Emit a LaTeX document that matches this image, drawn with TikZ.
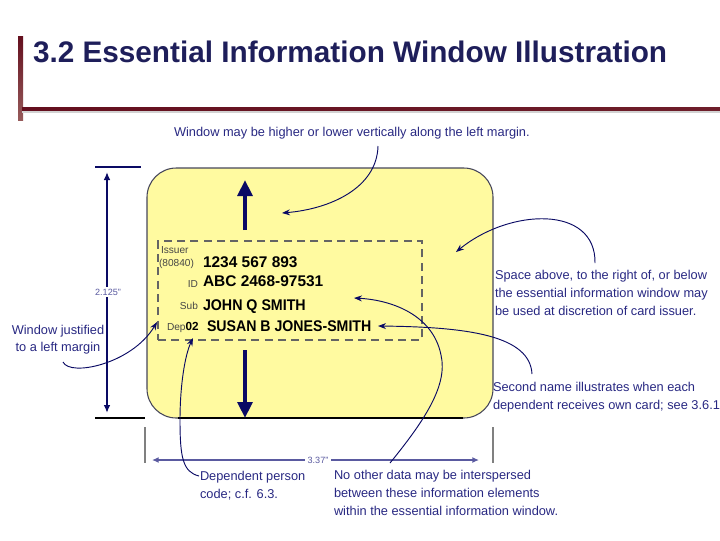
\documentclass[tikz,border=0pt]{standalone}
\usepackage{fontspec}
\setmainfont{Liberation Sans}
\usetikzlibrary{arrows.meta}
\definecolor{titlenavy}{RGB}{30,30,90}
\definecolor{navy}{RGB}{10,10,100}
\definecolor{callout}{RGB}{40,40,130}
\definecolor{cardyellow}{RGB}{255,250,160}
\definecolor{cardline}{RGB}{70,70,90}
\definecolor{bardark}{RGB}{100,15,30}
\definecolor{barlight}{RGB}{150,90,90}
\definecolor{dimblue}{RGB}{90,90,160}
\definecolor{labgray}{RGB}{70,70,70}
\definecolor{dashgray}{RGB}{100,100,100}
\begin{document}
\begin{tikzpicture}[x=0.75pt,y=-0.75pt,
  every node/.style={inner sep=0pt, outer sep=0pt},
  ctext/.style={text=callout, font=\fontsize{9.6}{13.4}\selectfont, align=left, anchor=north west},
  cline/.style={draw=navy, line width=0.7pt, -{Stealth[length=6pt,width=4.5pt]}},
  bigtxt/.style={font=\bfseries\fontsize{11.6}{13}\selectfont, anchor=base west, text=black},
  smalltxt/.style={font=\fontsize{7.6}{9}\selectfont, text=labgray},
  fatarrow/.style={draw=navy, line width=3pt, -{Triangle[length=12pt,width=11pt]}},
  dimlabel/.style={font=\fontsize{6.8}{8}\selectfont, text=dimblue, fill=white, inner xsep=2pt, inner ysep=1pt}
]
\useasboundingbox (0,0) rectangle (720,540);
% title bar
\shade[top color=bardark, bottom color=barlight] (18,36) rectangle (23,120);
\fill[gray!35] (22,110.5) rectangle (720,112.5);
\shade[left color=bardark, right color=bardark!80!barlight] (22,107.5) rectangle (720,110.5);
\node[anchor=base west, font=\bfseries\fontsize{22.3}{25}\selectfont, text=titlenavy] (title) at (33,62) {3.2 Essential Information Window Illustration};

% card
\node[draw=cardline, fill=cardyellow, line width=0.8pt, rounded corners=22pt,
      minimum width=259.5pt, minimum height=187.5pt] (card) at (320,293) {};
\coordinate (cbl) at (178,418);
\coordinate (cbr) at (463,418);
\draw[black, line width=0.8pt] (cbl) -- (cbr);

% window
\node[draw=dashgray, line width=1.6pt, dash pattern=on 6pt off 4pt,
      minimum width=198pt, minimum height=74.25pt] (win) at (290,290.5) {};

% window text
\node[smalltxt, anchor=base west] (issuer) at (161,253) {Issuer};
\node[smalltxt, anchor=base west] (issnum) at (159,266) {(80840)};
\node[bigtxt] (num) at (203,267) {1234 567 893};
\node[smalltxt, anchor=base east] (idl) at (198,287) {ID};
\node[bigtxt] (idv) at (203,286) {ABC 2468-97531};
\node[smalltxt, anchor=base east] (subl) at (198,309) {Sub};
\node[bigtxt] (subv) at (203,310) {\scalebox{0.92}[1]{JOHN Q SMITH}};
\node[smalltxt, anchor=base west] (depl) at (167,330) {Dep\textbf{\fontsize{8.8}{9}\selectfont\color{black}02}};
\node[bigtxt] (depv) at (207,331) {\scalebox{0.915}[1]{SUSAN B JONES-SMITH}};

% fat arrows
\coordinate (upa) at (245,230);
\coordinate (upb) at (245,180);
\draw[fatarrow] (upa) -- (upb);
\coordinate (dna) at (245,350);
\coordinate (dnb) at (245,418);
\draw[fatarrow] (dna) -- (dnb);

% dimensions
\coordinate (vt1) at (95,167); \coordinate (vt2) at (141,167);
\coordinate (vb1) at (95,418); \coordinate (vb2) at (145,418);
\draw[navy, line width=0.8pt] (vt1) -- (vt2);
\draw[black, line width=0.8pt] (vb1) -- (vb2);
\coordinate (vd1) at (107,172); \coordinate (vd2) at (107,413);
\draw[navy, line width=1.4pt, {Latex[length=6pt,width=5pt]}-{Latex[length=6pt,width=5pt]}] (vd1) -- (vd2);
\node[dimlabel] (vlab) at (108,292) {2.125"};

\coordinate (hl1) at (145,427); \coordinate (hl2) at (145,463);
\coordinate (hr1) at (493,427); \coordinate (hr2) at (493,463);
\draw[gray, line width=0.8pt] (hl1) -- (hl2);
\draw[gray, line width=0.8pt] (hr1) -- (hr2);
\coordinate (hd1) at (152,460); \coordinate (hd2) at (479,460);
\draw[dimblue, line width=1.1pt, {Latex[length=5pt,width=4.5pt]}-{Latex[length=5pt,width=4.5pt]}] (hd1) -- (hd2);
\node[dimlabel] (hlab) at (318,460) {3.37"};

% callout texts
\node[ctext] (c1) at (174,127) {Window may be higher or lower vertically along the left margin.};
\node[ctext] (c2) at (495,270) {Space above, to the right of, or below\\the essential information window may\\be used at discretion of card issuer.};
\node[ctext, align=center, anchor=north, font=\fontsize{9.6}{12.8}\selectfont] (c3) at (58,325) {Window justified\\to a left margin};
\node[ctext] (c4) at (493,382) {Second name illustrates when each\\dependent receives own card; see 3.6.1};
\node[ctext] (c5) at (334,470) {No other data may be interspersed\\between these information elements\\within the essential information window.};
\node[ctext] (c6) at (200,471) {Dependent person\\code; c.f. 6.3.};

% callout connectors
\coordinate (s1) at (378,146); \coordinate (t1) at (282,213);
\draw[cline] (s1) .. controls (377,188) and (330,209) .. (t1);
\coordinate (s2) at (595,263); \coordinate (t2) at (456,252);
\draw[cline] (s2) .. controls (596,205) and (510,208) .. (t2);
\coordinate (s3) at (63,362); \coordinate (t3) at (157,322);
\draw[cline] (s3) .. controls (70,377) and (132,364) .. (t3);
\coordinate (s4) at (532,374); \coordinate (t4) at (378,326);
\draw[cline] (s4) .. controls (530,336) and (470,327) .. (t4);
\coordinate (s5) at (390,463); \coordinate (m5) at (441,355); \coordinate (t5) at (354,298);
\draw[cline] (s5) .. controls (425,420) and (448,385) .. (m5) .. controls (433,315) and (392,300) .. (t5);
\coordinate (s6) at (199,476); \coordinate (m6) at (180,420); \coordinate (t6) at (193,338);
\draw[cline] (s6) .. controls (183,472) and (180,458) .. (m6) .. controls (180,385) and (185,355) .. (t6);
\end{tikzpicture}
\end{document}
